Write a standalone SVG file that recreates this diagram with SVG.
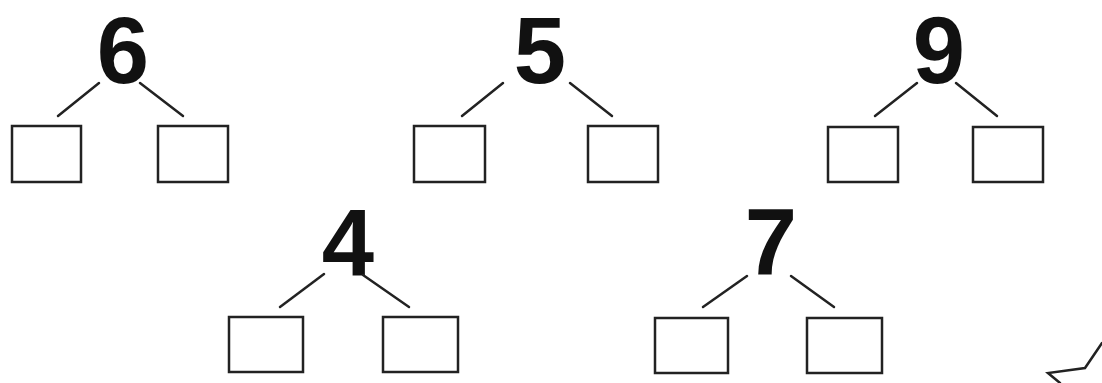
<svg xmlns="http://www.w3.org/2000/svg" width="1102" height="383" viewBox="0 0 1102 383">
<style>
.num{font-family:"Liberation Sans",Arial,sans-serif;font-weight:bold;font-size:94px;fill:#111;text-anchor:middle}
.box{fill:#fff;stroke:#222;stroke-width:2.5}
.ln{stroke:#222;stroke-width:2.5;fill:none;stroke-linecap:round}
</style>
<rect width="1102" height="383" fill="#fff"/>
<g id="tree6">
<text class="num" x="123" y="83">6</text>
<rect class="box" x="12" y="126" width="69" height="56"/>
<rect class="box" x="158" y="126" width="70" height="56"/>
</g>
<g id="tree5">
<text class="num" x="540" y="83">5</text>
<rect class="box" x="414" y="126" width="71" height="56"/>
<rect class="box" x="588" y="126" width="70" height="56"/>
</g>
<g id="tree9">
<text class="num" x="939" y="83">9</text>
<rect class="box" x="828" y="127" width="70" height="55"/>
<rect class="box" x="973" y="127" width="70" height="55"/>
</g>
<g id="tree4">
<text class="num" x="348" y="275">4</text>
<rect class="box" x="229" y="317" width="74" height="55"/>
<rect class="box" x="383" y="317" width="75" height="55"/>
</g>
<g id="tree7">
<text class="num" x="771" y="275">7</text>
<rect class="box" x="655" y="318" width="73" height="55"/>
<rect class="box" x="807" y="318" width="75" height="55"/>
</g>
<g id="connectors">
<line class="ln" x1="99" y1="83" x2="58" y2="116"/>
<line class="ln" x1="140" y1="83" x2="183" y2="116"/>
<line class="ln" x1="503" y1="83" x2="462" y2="116"/>
<line class="ln" x1="570" y1="83" x2="612" y2="116"/>
<line class="ln" x1="917" y1="83" x2="875" y2="116"/>
<line class="ln" x1="956" y1="83" x2="997" y2="116"/>
<line class="ln" x1="324" y1="274" x2="280" y2="307"/>
<line class="ln" x1="363" y1="275" x2="409" y2="307"/>
<line class="ln" x1="747" y1="276" x2="703" y2="307"/>
<line class="ln" x1="791" y1="276" x2="834" y2="307"/>
</g>
<polyline class="ln" points="1102,343 1085,368 1048,373 1060,383"/>
</svg>
